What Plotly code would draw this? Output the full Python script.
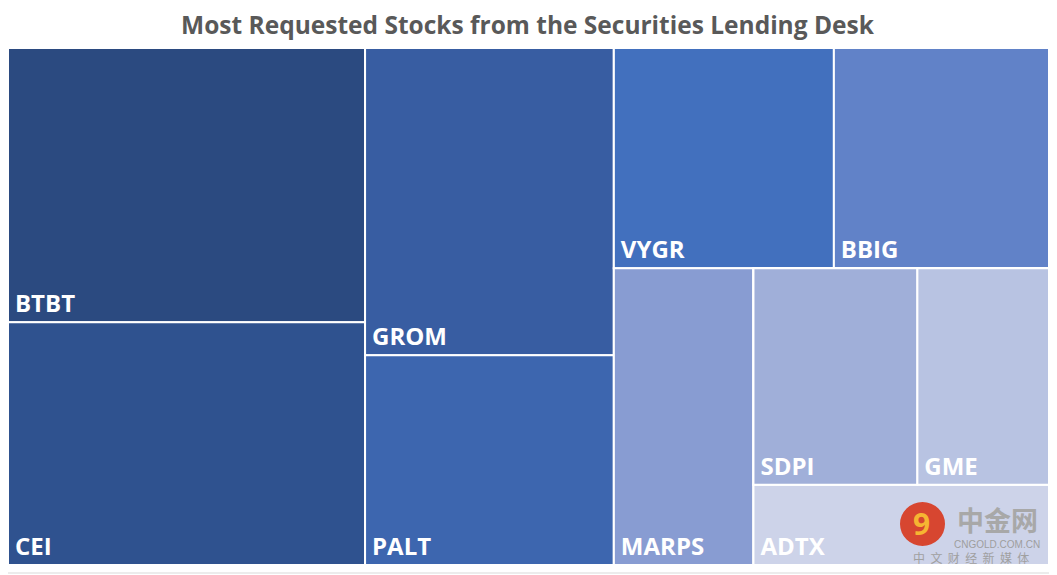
import plotly.graph_objects as go

# Data
stocks = ["BTBT", "CEI", "GROM", "PALT", "VYGR", "BBIG", "MARPS", "SDPI", "GME", "ADTX"]
values = [182, 161, 142, 97, 90, 88, 77, 66, 53, 44]
colors = ["#2B4A80", "#2F528F", "#385DA2", "#3D66AF", "#4270BE", "#6182C8",
          "#889CD2", "#A0AFD9", "#B8C3E2", "#CDD3E9"]
# grouping; order matters for placement
node_order = ["g1", "BTBT", "CEI", "g2", "GROM", "PALT", "g3", "g3a", "VYGR", "BBIG",
              "g3b", "MARPS", "g3c", "g3c1", "SDPI", "GME", "ADTX"]
node_parent = {"g1": "", "BTBT": "g1", "CEI": "g1",
               "g2": "", "GROM": "g2", "PALT": "g2",
               "g3": "", "g3a": "g3", "VYGR": "g3a", "BBIG": "g3a",
               "g3b": "g3", "MARPS": "g3b", "g3c": "g3b", "g3c1": "g3c",
               "SDPI": "g3c1", "GME": "g3c1", "ADTX": "g3c"}

val_of = dict(zip(stocks, values))
col_of = dict(zip(stocks, colors))
ids, parents, vals, labels, texts, cols = [], [], [], [], [], []
for n in node_order:
    ids.append(n)
    parents.append(node_parent[n])
    vals.append(val_of.get(n, 0))
    labels.append(n if n in val_of else "")
    texts.append("\u2009" + n if n in val_of else "")
    cols.append(col_of.get(n, "#FFFFFF"))

# figure is shown with an 8px page offset; compensate
W, H = 1049, 567
L, R, T, B = 0, 8, 40, 10
PW, PH = W - L - R, H - T - B


def px(ax):
    return (ax - 8 - L) / PW


def py(ay):
    return (H - B - (ay - 8)) / PH


fig = go.Figure(go.Treemap(
    ids=ids, parents=parents, values=vals, labels=labels,
    text=texts, texttemplate="%{text}",
    branchvalues="remainder",
    sort=False,
    tiling=dict(packing="slice-dice", pad=0),
    marker=dict(colors=cols, line=dict(color="white", width=2),
                pad=dict(t=0, l=0, r=0, b=0)),
    textposition="bottom left",
    textfont=dict(family="Open Sans", size=24, color="white", weight="bold"),
    pathbar=dict(visible=False),
    hoverinfo="label+value",
))

ann_common = dict(xref="paper", yref="paper", showarrow=False, xanchor="center", yanchor="middle")

fig.update_layout(
    width=W, height=H,
    margin=dict(l=L, r=R, t=T, b=B),
    paper_bgcolor="white",
    title=dict(text="<b>Most Requested Stocks from the Securities Lending Desk</b>",
               x=(527.5 - 8) / W, xanchor="center", y=1 - (25 - 8) / H, yanchor="middle",
               font=dict(family="Open Sans", size=24.5, color="#595959")),
    shapes=[
        dict(type="circle", xref="paper", yref="paper",
             x0=px(900), x1=px(945), y0=py(546), y1=py(502),
             fillcolor="#D8361C", line=dict(width=0), opacity=0.9),
        dict(type="line", xref="paper", yref="paper", x0=px(1055), x1=px(1055),
             y0=py(573), y1=py(8), line=dict(color="#D9D9D9", width=1)),
        dict(type="line", xref="paper", yref="paper", x0=px(8), x1=px(1055),
             y0=py(573), y1=py(573), line=dict(color="#D9D9D9", width=1)),
    ],
    annotations=[
        dict(text="9", x=px(921), y=py(523),
             font=dict(family="Open Sans", size=30, color="#F6B532", weight="bold"), **ann_common),
        dict(text="中金网", x=px(997), y=py(519),
             font=dict(family="Noto Sans CJK SC", size=27, color="#A8A8A8", weight="bold"), **ann_common),
        dict(text="CNGOLD.COM.CN", x=px(997), y=py(544),
             font=dict(family="Liberation Sans", size=10, color="#9E9E9E"), **ann_common),
        dict(text="\u00a0\u00a0".join("中文财经新媒体"), x=px(971), y=py(557),
             font=dict(family="Noto Sans CJK SC", size=12, color="#A0A0A0"), **ann_common),
    ],
)

fig.write_html("out.html")
